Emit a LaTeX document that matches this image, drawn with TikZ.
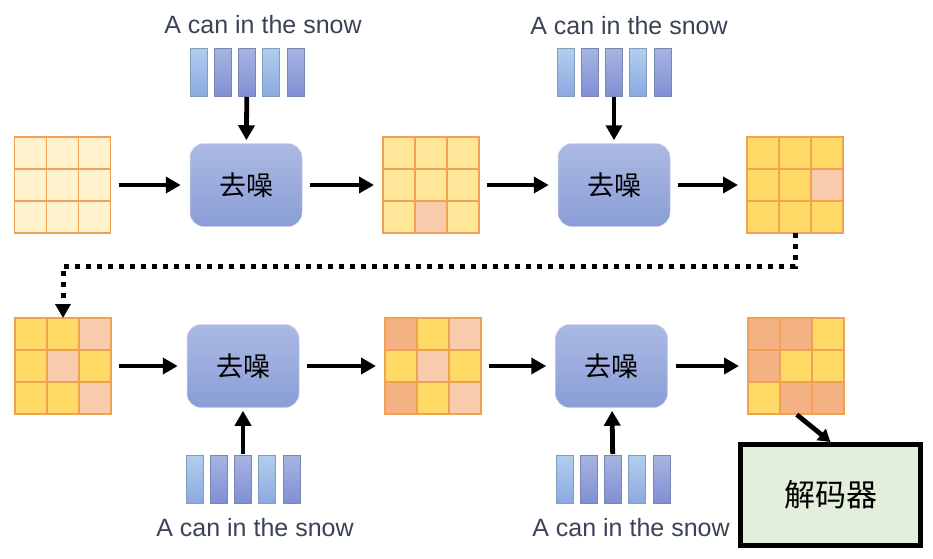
\documentclass[tikz,border=0pt]{standalone}
\usepackage{fontspec}
\setmainfont{Liberation Sans}
\newfontfamily\cjk{Noto Sans CJK SC}
\usetikzlibrary{arrows.meta,calc}

\definecolor{cream}{HTML}{FFF2CC}
\definecolor{paleyel}{HTML}{FFE699}
\definecolor{deepyel}{HTML}{FFD966}
\definecolor{peach}{HTML}{F8CBAD}
\definecolor{salmon}{HTML}{F4B183}
\definecolor{gridline}{HTML}{F2A052}
\definecolor{boxtop}{HTML}{ABB9E3}
\definecolor{boxbot}{HTML}{8A9ED6}
\definecolor{lighttok}{HTML}{A3C6EA}
\definecolor{darktok}{HTML}{97A7DC}
\definecolor{prompt}{HTML}{3A4356}
\definecolor{decfill}{HTML}{E2EFDA}

\newcommand\cellgrid[2]{%
  \foreach \c [count=\i from 0] in {#2} {
    \pgfmathtruncatemacro\gr{\i/3}
    \pgfmathtruncatemacro\gc{\i-3*\gr}
    \filldraw[fill=\c, draw=gridline, line width=1.2pt]
      ($(#1.north west)+(\gc*32,\gr*32)$) rectangle ++(32,32);
  }}
\newcommand\tokens[1]{%
  \foreach \k/\tc in {0/lighttok,1/darktok,2/darktok,3/lighttok,4/darktok}
    \shade[top color=\tc!85!white, bottom color=\tc!90!blue!95!black, draw=\tc!80!black, line width=0.6pt]
      ($(#1.north west)+(\k*24.25,0)$) rectangle ++(17,48);}

\begin{document}
\begin{tikzpicture}[
  x=1pt, y=-1pt,
  font=\fontsize{25}{30}\selectfont,
  latent/.style={minimum size=96pt, inner sep=0pt, outer sep=0pt},
  denoise/.style={minimum width=112pt, minimum height=83pt, rounded corners=14pt,
    top color=boxtop, bottom color=boxbot, draw=boxtop!60!white, line width=0.5pt,
    font=\cjk\fontsize{27}{30}\selectfont},
  tokgroup/.style={minimum width=114pt, minimum height=48pt, inner sep=0pt, outer sep=0pt},
  prompttxt/.style={text=prompt, inner sep=0pt},
  decoder/.style={draw=black, line width=5pt, fill=decfill, minimum width=180pt,
    minimum height=101pt, font=\cjk\fontsize{31}{34}\selectfont},
  msg/.style={-{Triangle[length=15pt,width=16pt]}, line width=4.8pt, shorten <=8pt, shorten >=9pt},
  vmsg/.style={msg, shorten <=1pt, shorten >=3pt},
  dotline/.style={-{Triangle[length=14pt,width=15pt]}, line width=5pt, dash pattern=on 5pt off 6pt}
]
\useasboundingbox (0,0) rectangle (933,558);

\node[latent] (z1) at (62.5,185) {};
\node[denoise] (d1) at (246,185) {去噪};
\node[latent] (z2) at (431,185) {};
\node[denoise] (d2) at (614,185) {去噪};
\node[latent] (z3) at (795,185) {};
\node[latent] (z4) at (63,366) {};
\node[denoise] (d3) at (243,366) {去噪};
\node[latent] (z5) at (433,366) {};
\node[denoise] (d4) at (611.5,366) {去噪};
\node[latent] (z6) at (796,366) {};
\node[decoder] (dec) at (830.5,495) {解码器};

\node[tokgroup] (t1) at (247,72) {};
\node[tokgroup] (t2) at (614,72) {};
\node[tokgroup] (t3) at (243,479) {};
\node[tokgroup] (t4) at (613,479) {};
\node[prompttxt] (p1) at (263,25) {A can in the snow};
\node[prompttxt] (p2) at (629,26) {A can in the snow};
\node[prompttxt] (p3) at (255,528) {A can in the snow};
\node[prompttxt] (p4) at (631,528) {A can in the snow};

\cellgrid{z1}{cream,cream,cream,cream,cream,cream,cream,cream,cream}
\cellgrid{z2}{paleyel,paleyel,paleyel,paleyel,paleyel,paleyel,paleyel,peach,paleyel}
\cellgrid{z3}{deepyel,deepyel,deepyel,deepyel,deepyel,peach,deepyel,deepyel,deepyel}
\cellgrid{z4}{deepyel,deepyel,peach,deepyel,peach,deepyel,deepyel,deepyel,peach}
\cellgrid{z5}{salmon,deepyel,peach,deepyel,peach,deepyel,salmon,deepyel,peach}
\cellgrid{z6}{salmon,salmon,deepyel,salmon,deepyel,deepyel,deepyel,salmon,salmon}
\tokens{t1} \tokens{t2} \tokens{t3} \tokens{t4}

\draw[msg] (z1) -- (d1);
\draw[msg] (d1) -- (z2);
\draw[msg] (z2) -- (d2);
\draw[msg] (d2) -- (z3);
\draw[msg] (z4) -- (d3);
\draw[msg] (d3) -- (z5);
\draw[msg] (z5) -- (d4);
\draw[msg] (d4) -- (z6);
\draw[vmsg] (t1) -- (d1);
\draw[vmsg] (t2) -- (d2);
\draw[vmsg] (t3) -- (d3);
\draw[vmsg] (t4) -- (d4);
\draw[dotline] (z3.south) -- ++(0,33) -| (z4.north);
\draw[msg, shorten <=1pt, shorten >=0pt, -{Triangle[length=12pt,width=14pt]}] (z6.south) -- (dec.north);
\end{tikzpicture}
\end{document}
